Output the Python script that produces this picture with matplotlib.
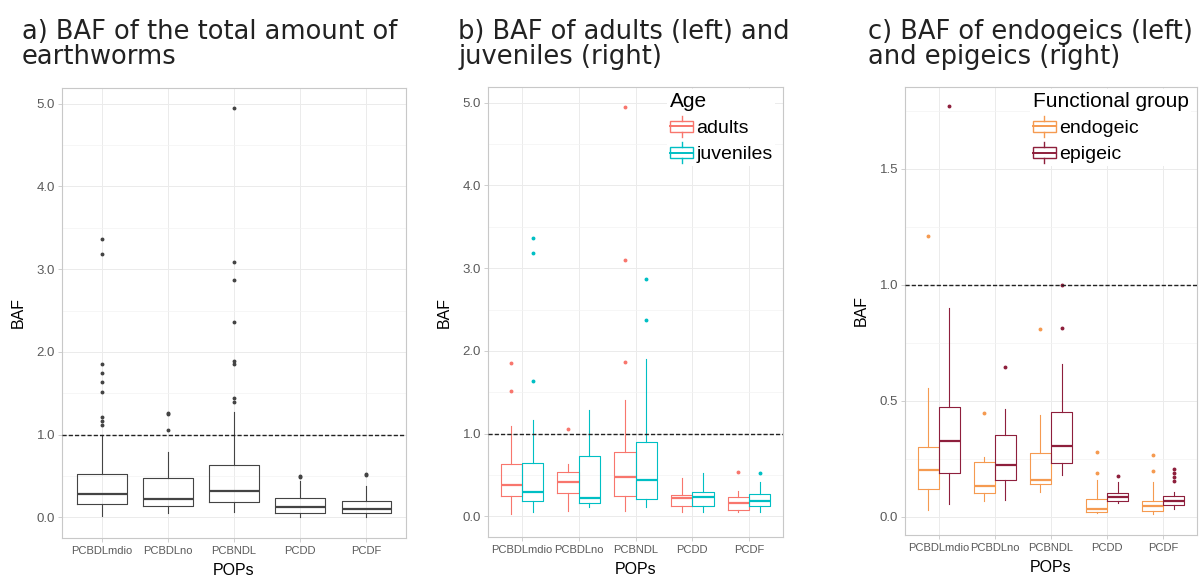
import matplotlib
matplotlib.use("Agg")
from matplotlib import pyplot as plt
from matplotlib.patches import Rectangle
from matplotlib.lines import Line2D
from matplotlib.legend_handler import HandlerBase
from matplotlib.ticker import MultipleLocator
import numpy as np

plt.rcParams['font.family'] = ['Liberation Sans', 'DejaVu Sans']

cats = ['PCBDLmdio', 'PCBDLno', 'PCBNDL', 'PCDD', 'PCDF']

# a) total amount of earthworms
a_lo = [0.01, 0.05, 0.06, 0.00, 0.00]
a_q1 = [0.16, 0.14, 0.19, 0.05, 0.05]
a_med = [0.28, 0.22, 0.32, 0.12, 0.10]
a_q3 = [0.52, 0.47, 0.63, 0.23, 0.20]
a_hi = [1.00, 0.79, 1.27, 0.44, 0.38]
a_out = [[3.37, 3.18, 1.85, 1.75, 1.63, 1.51, 1.21, 1.17, 1.12],
         [1.26, 1.25, 1.05],
         [4.95, 3.09, 2.87, 2.36, 1.89, 1.85, 1.44, 1.39],
         [0.50, 0.49],
         [0.52, 0.51]]

# b) adults / juveniles
ad_lo = [0.03, 0.07, 0.06, 0.05, 0.05]
ad_q1 = [0.24, 0.28, 0.25, 0.12, 0.08]
ad_med = [0.38, 0.41, 0.48, 0.22, 0.16]
ad_q3 = [0.63, 0.54, 0.78, 0.26, 0.23]
ad_hi = [1.09, 0.63, 1.41, 0.46, 0.31]
ad_out = [[1.85, 1.52], [1.06], [4.95, 3.10, 1.86], [], [0.54]]

ju_lo = [0.056, 0.11, 0.11, 0.056, 0.056]
ju_q1 = [0.19, 0.16, 0.21, 0.13, 0.12]
ju_med = [0.29, 0.22, 0.44, 0.23, 0.19]
ju_q3 = [0.64, 0.73, 0.90, 0.29, 0.27]
ju_hi = [1.165, 1.29, 1.905, 0.52, 0.41]
ju_out = [[3.37, 3.18, 1.636], [], [2.87, 2.37], [], [0.52]]

# c) endogeic / epigeic
en_lo = [0.03, 0.067, 0.106, 0.017, 0.013]
en_q1 = [0.12, 0.103, 0.141, 0.02, 0.027]
en_med = [0.203, 0.134, 0.16, 0.036, 0.046]
en_q3 = [0.303, 0.236, 0.274, 0.077, 0.07]
en_hi = [0.557, 0.26, 0.44, 0.16, 0.149]
en_out = [[1.21], [0.449], [0.81], [0.281, 0.189], [0.267, 0.20]]

ep_lo = [0.057, 0.071, 0.18, 0.06, 0.034]
ep_q1 = [0.191, 0.16, 0.231, 0.067, 0.053]
ep_med = [0.329, 0.223, 0.306, 0.086, 0.067]
ep_q3 = [0.474, 0.353, 0.453, 0.103, 0.091]
ep_hi = [0.90, 0.467, 0.66, 0.149, 0.106]
ep_out = [[1.77], [0.646], [1.0, 0.815], [0.177], [0.206, 0.191, 0.174, 0.156]]

W, H = 1202, 576


def make_stats(lo, q1, med, q3, hi, out):
    return [dict(whislo=lo[i], q1=q1[i], med=med[i], q3=q3[i], whishi=hi[i],
                 fliers=out[i]) for i in range(len(lo))]


def draw(ax, st, pos, width, color):
    ax.bxp(st, positions=pos, widths=width, showcaps=False, manage_ticks=False,
           boxprops=dict(color=color, lw=0.8),
           whiskerprops=dict(color=color, lw=0.8),
           medianprops=dict(color=color, lw=1.6),
           flierprops=dict(marker='o', markersize=1.8, markerfacecolor=color,
                           markeredgecolor=color, linestyle='none'))


def style(ax, ylim, step, minor):
    ax.set_ylim(*ylim)
    ax.set_xlim(0.4, 5.6)
    ax.yaxis.set_major_locator(MultipleLocator(step))
    ax.yaxis.set_minor_locator(MultipleLocator(minor))
    ax.yaxis.set_major_formatter(plt.FormatStrFormatter('%.1f'))
    ax.set_xticks(np.arange(1, 6))
    ax.set_xticklabels(cats)
    ax.grid(True, which='major', color='#EBEBEB', lw=0.7)
    ax.grid(True, which='minor', axis='y', color='#F3F3F3', lw=0.5)
    ax.set_axisbelow(True)
    for s in ax.spines.values():
        s.set_color('#C8C8C8')
        s.set_linewidth(0.8)
    ax.tick_params(axis='both', which='major', color='#C8C8C8', length=3,
                   width=0.6, labelcolor='#5A5A5A')
    ax.tick_params(axis='y', labelsize=9.5, pad=2)
    ax.tick_params(axis='x', labelsize=8, pad=3)
    ax.tick_params(which='minor', length=0)
    ax.axhline(1.0, color='#222222', lw=1.0, ls=(0, (3, 1.5)), zorder=3)
    ax.set_xlabel('POPs', fontsize=11.5, labelpad=5)
    ax.set_ylabel('BAF', fontsize=11.5, labelpad=8)


class BoxHandler(HandlerBase):
    def create_artists(self, legend, orig_handle, xdescent, ydescent,
                       width, height, fontsize, trans):
        c = orig_handle.get_color()
        x0, y0 = -xdescent, -ydescent
        arts = [Rectangle((x0, y0 + 0.2 * height), width, 0.6 * height,
                          facecolor='white', edgecolor=c, lw=1.0),
                Line2D([x0, x0 + width], [y0 + 0.5 * height] * 2, color=c, lw=1.4),
                Line2D([x0 + width / 2] * 2, [y0 - 0.1 * height, y0 + 0.2 * height], color=c, lw=1.0),
                Line2D([x0 + width / 2] * 2, [y0 + 0.8 * height, y0 + 1.1 * height], color=c, lw=1.0)]
        for a in arts:
            a.set_transform(trans)
        return arts


def add_legend(ax, labels, colors, title, xanchor):
    handles = [Line2D([], [], color=c) for c in colors]
    leg = ax.legend(handles, labels, title=title, loc='upper left',
                    bbox_to_anchor=(xanchor, 1.0), borderaxespad=0.1,
                    handler_map={Line2D: BoxHandler()}, fontsize=14,
                    title_fontsize=15, alignment='left', frameon=True,
                    fancybox=False, edgecolor='none', framealpha=1,
                    handlelength=1.2, handleheight=1.0, handletextpad=0.15,
                    labelspacing=0.35, borderpad=0.15)
    return leg


def axes_at(fig, l, r, t, b):
    return fig.add_axes([l / W, 1 - b / H, (r - l) / W, (b - t) / H])


fig = plt.figure(figsize=(W / 100, H / 100), dpi=100)

pos = np.arange(1, 6)
d = 0.1875

# panel a
ax1 = axes_at(fig, 62, 406, 88, 538)
draw(ax1, make_stats(a_lo, a_q1, a_med, a_q3, a_hi, a_out), pos, 0.75, '#444444')
style(ax1, (-0.25, 5.19), 1.0, 0.5)

# panel b
ax2 = axes_at(fig, 488, 783, 87, 537)
draw(ax2, make_stats(ad_lo, ad_q1, ad_med, ad_q3, ad_hi, ad_out), pos - d, 0.375, '#F8766D')
draw(ax2, make_stats(ju_lo, ju_q1, ju_med, ju_q3, ju_hi, ju_out), pos + d, 0.375, '#00BFC4')
style(ax2, (-0.25, 5.19), 1.0, 0.5)
add_legend(ax2, ['adults', 'juveniles'], ['#F8766D', '#00BFC4'], 'Age', 0.6)

# panel c
ax3 = axes_at(fig, 905, 1197, 87, 535)
draw(ax3, make_stats(en_lo, en_q1, en_med, en_q3, en_hi, en_out), pos - d, 0.375, '#F59A50')
draw(ax3, make_stats(ep_lo, ep_q1, ep_med, ep_q3, ep_hi, ep_out), pos + d, 0.375, '#8E1F3C')
style(ax3, (-0.078, 1.853), 0.5, 0.25)
add_legend(ax3, ['endogeic', 'epigeic'], ['#F59A50', '#8E1F3C'], 'Functional group', 0.42)

titles = ['a) BAF of the total amount of\nearthworms',
          'b) BAF of adults (left) and\njuveniles (right)',
          'c) BAF of endogeics (left)\nand epigeics (right)']
tx = [22, 458, 868]
for x, t in zip(tx, titles):
    fig.text(x / W, 1 - 19 / H, t, ha='left', va='top', fontsize=18.5,
             family='DejaVu Sans', color='#222222', linespacing=0.95)

fig.savefig('out.png', dpi=100)
